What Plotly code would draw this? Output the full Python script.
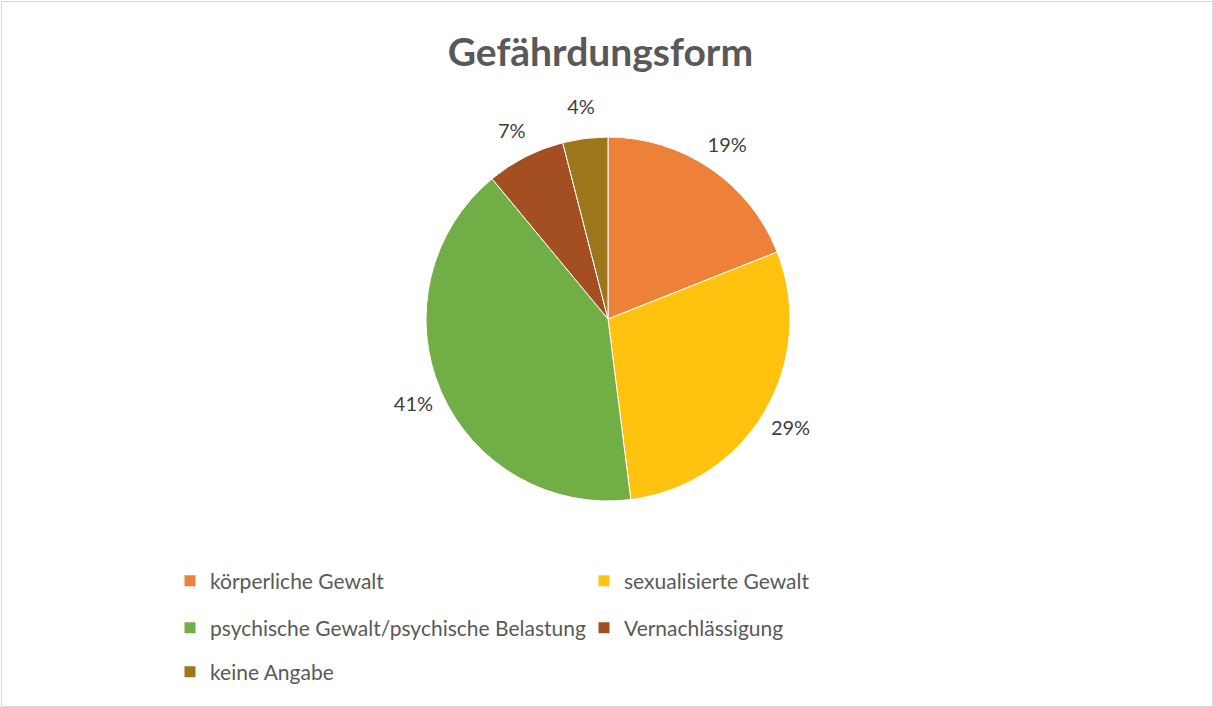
import plotly.graph_objects as go

categories = ["körperliche Gewalt", "sexualisierte Gewalt",
              "psychische Gewalt/psychische Belastung", "Vernachlässigung", "keine Angabe"]
values = [19, 29, 41, 7, 4]
colors = ["#EE8139", "#FFC20E", "#71AE46", "#A44F22", "#9C761A"]
legend_rows = [1, 1, 2, 2, 3]

W, H = 1213, 707
cx, cy, r = 608, 319, 182
ring = 1.33  # outer radius of the invisible label ring, relative to pie radius


def dom(rad):
    return dict(x=[(cx - rad) / W, (cx + rad) / W], y=[1 - (cy + rad) / H, 1 - (cy - rad) / H])


fig = go.Figure()
# visible pie
fig.add_trace(go.Pie(
    labels=categories, values=values, sort=False, direction="clockwise", rotation=0,
    marker=dict(colors=colors, line=dict(color="white", width=1)),
    textinfo="none", showlegend=False, domain=dom(r), hoverinfo="label+percent",
))
# invisible ring carrying the percentage labels just outside the pie
fig.add_trace(go.Pie(
    labels=categories, values=values, sort=False, direction="clockwise", rotation=0,
    hole=1 / ring,
    marker=dict(colors=["rgba(0,0,0,0)"] * len(values), line=dict(width=0)),
    texttemplate="%{value}%", textposition="inside", insidetextorientation="horizontal",
    insidetextfont=dict(family="Lato", size=20, color="#404040"),
    showlegend=False, domain=dom(r * ring), hoverinfo="skip",
))
# legend entries
for cat, col, row in zip(categories, colors, legend_rows):
    fig.add_trace(go.Scatter(
        x=[None], y=[None], mode="markers", name=cat,
        marker=dict(symbol="square", size=11, color=col),
        legend="legend" if row == 1 else "legend%d" % row,
    ))

row_y = {1: 581, 2: 628, 3: 672}
leg_common = dict(orientation="h", x=170 / W, xanchor="left", yanchor="middle",
                  entrywidth=369, entrywidthmode="pixels", itemwidth=30,
                  font=dict(family="Lato", size=21, color="#595959"), traceorder="normal",
                  bgcolor="rgba(0,0,0,0)")

fig.update_layout(
    width=W, height=H,
    margin=dict(l=0, r=0, t=0, b=0),
    paper_bgcolor="white", plot_bgcolor="white",
    xaxis=dict(visible=False), yaxis=dict(visible=False),
    title=dict(text="<b>Gefährdungsform</b>", x=0.495, xanchor="center", y=1 - 52 / H, yanchor="middle",
               font=dict(family="Lato", size=39, color="#595959")),
    legend=dict(y=1 - row_y[1] / H, **leg_common),
    legend2=dict(y=1 - row_y[2] / H, **leg_common),
    legend3=dict(y=1 - row_y[3] / H, **leg_common),
    shapes=[dict(type="rect", xref="paper", yref="paper", x0=1.5 / W, x1=1 - 0.5 / W, y0=0.5 / H, y1=1 - 1.5 / H,
                 line=dict(color="#D9D9D9", width=1))],
)

fig.write_html("out.html")
